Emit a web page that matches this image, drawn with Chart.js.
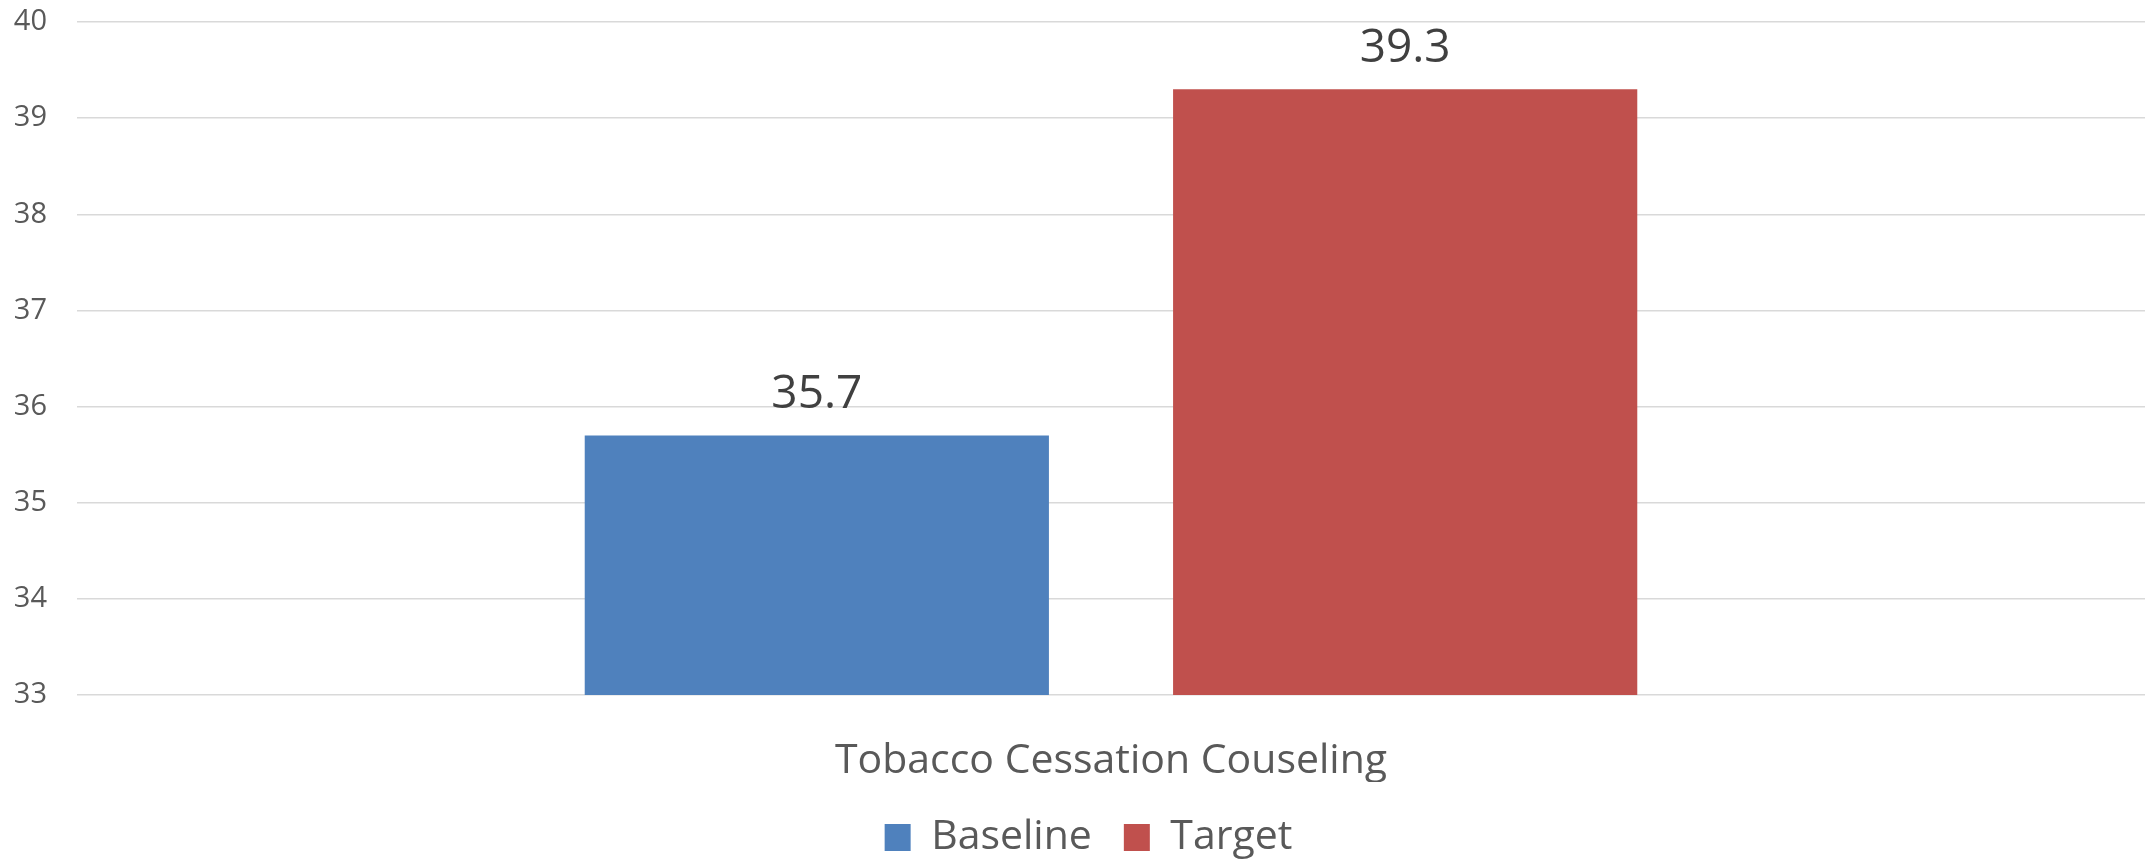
<!DOCTYPE html>
<html>
<head>
<meta charset="utf-8">
<script src="https://cdn.jsdelivr.net/npm/chart.js@4/dist/chart.umd.min.js"></script>
<style>
  html, body { margin: 0; padding: 0; background: #fff; }
  #wrap { width: 2149px; height: 865px; }
</style>
</head>
<body>
<div id="wrap"><canvas id="myChart" width="2149" height="865"></canvas></div>
<script>
const categories = ['Tobacco Cessation Couseling'];
const seriesNames = ['Baseline', 'Target'];
const baselineValues = [35.7];
const targetValues = [39.3];
const yTicks = [33, 34, 35, 36, 37, 38, 39, 40];

// draws the number above each bar
const barValues = {
    id: 'barValues',
    afterDatasetsDraw(chart) {
        const ctx = chart.ctx;
        ctx.save();
        ctx.font = '46px "Open Sans"';
        ctx.fillStyle = '#404040';
        ctx.textAlign = 'center';
        ctx.textBaseline = 'alphabetic';
        chart.data.datasets.forEach((ds, i) => {
            chart.getDatasetMeta(i).data.forEach((bar, j) => {
                ctx.fillText(ds.data[j].toFixed(1), bar.x, bar.y - 27);
            });
        });
        ctx.restore();
    }
};

// the legend in the original sits a bit right of centre
const legendNudge = {
    id: 'legendNudge',
    afterLayout(chart) {
        chart.legend.left += 32;
        chart.legend.top += 3;
    }
};

var ctx = document.getElementById('myChart').getContext('2d');
var myChart = new Chart(ctx, {
    type: 'bar',
    data: {
        labels: categories,
        datasets: [{
            label: seriesNames[0],
            data: baselineValues,
            backgroundColor: '#4F81BD'
        }, {
            label: seriesNames[1],
            data: targetValues,
            backgroundColor: '#C0504D'
        }]
    },
    options: {
        responsive: false,
        animation: false,
        categoryPercentage: 0.569,
        barPercentage: 0.789,
        layout: { padding: { top: 22, left: 0, right: 4, bottom: 0 } },
        plugins: {
            legend: {
                position: 'bottom',
                labels: {
                    boxWidth: 26,
                    boxHeight: 27,
                    padding: 32,
                    color: '#595959',
                    font: { family: 'Open Sans', size: 41 }
                }
            },
            tooltip: { enabled: false }
        },
        scales: {
            x: {
                grid: { display: false },
                border: { display: false },
                ticks: {
                    color: '#595959',
                    padding: 34,
                    font: { family: 'Open Sans', size: 41 }
                },
                afterFit: (scale) => { scale.height = 87; }
            },
            y: {
                min: 33,
                max: 40,
                afterBuildTicks: (axis) => { axis.ticks = yTicks.map(v => ({ value: v })); },
                grid: { color: '#D9D9D9', lineWidth: 1.5, drawTicks: false },
                border: { display: false },
                ticks: {
                    color: '#595959',
                    padding: 30,
                    font: { family: 'Open Sans', size: 29 }
                },
                afterFit: (scale) => {
                    scale.width = 77;
                    scale.paddingTop = 0;
                    scale.paddingBottom = 0;
                }
            }
        }
    },
    plugins: [barValues, legendNudge]
});
</script>
</body>
</html>
